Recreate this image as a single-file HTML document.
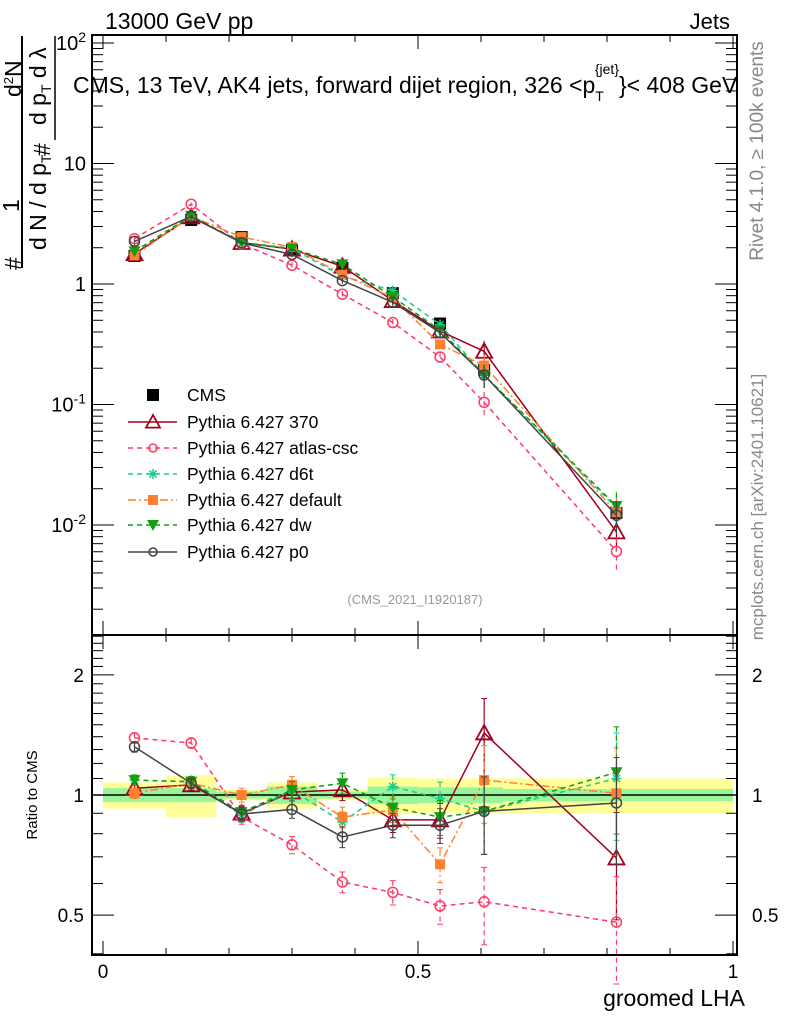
<!DOCTYPE html>
<html><head><meta charset="utf-8"><style>
html,body{margin:0;padding:0;background:#fff;}
svg{display:block;font-family:"Liberation Sans",sans-serif;}
</style></head><body>
<svg id="chart" width="786" height="1024" viewBox="0 0 786 1024">
<g id="bands"></g>
<g id="axes"></g>
<g id="series"></g>
<g id="legend"></g>
<text x="105" y="29" font-size="23">13000 GeV pp</text>
<text x="730" y="29" font-size="22" text-anchor="end">Jets</text>
<text x="73" y="93" font-size="23">CMS, 13 TeV, AK4 jets, forward dijet region, 326 &lt;p<tspan font-size="14" dy="8">T</tspan><tspan font-size="14" dx="-9" dy="-27">{jet}</tspan><tspan dy="19">}&lt; 408 GeV</tspan></text>
<text x="415" y="604" font-size="13" fill="#999" text-anchor="middle">(CMS_2021_I1920187)</text>
<text transform="translate(763,151) rotate(-90)" font-size="19" fill="#888" text-anchor="middle">Rivet 4.1.0, ≥ 100k events</text>
<text transform="translate(763,507) rotate(-90)" font-size="17" fill="#888" text-anchor="middle">mcplots.cern.ch [arXiv:2401.10621]</text>
<g font-size="23">
<line x1="22" y1="36" x2="22" y2="268" stroke="#000" stroke-width="2"/>
<text transform="translate(21,270) rotate(-90)" >#</text>
<text transform="translate(19,212) rotate(-90)">1</text>
<text transform="translate(46,250) rotate(-90)">d N / d p<tspan font-size="14" dy="5">T</tspan></text>
<line x1="55" y1="36" x2="55" y2="140" stroke="#000" stroke-width="1.5"/>
<text transform="translate(50,156) rotate(-90)">#</text>
<text transform="translate(46,125) rotate(-90)">d p<tspan font-size="14" dy="5">T</tspan><tspan dy="-5">  d λ</tspan></text>
<text transform="translate(21,97) rotate(-90)">d<tspan font-size="13" dy="-8">2</tspan><tspan dy="8">N</tspan></text>
</g>
<text transform="translate(37,795) rotate(-90)" font-size="15" text-anchor="middle">Ratio to CMS</text>
<text x="745" y="1006" font-size="23" text-anchor="end">groomed LHA</text>
</svg>
<script>
const xVals=[0.05,0.14,0.22,0.30,0.38,0.46,0.535,0.605,0.815];
const cmsVals=[1.71,3.40,2.45,1.91,1.36,0.84,0.47,0.193,0.0126];
const relErr=[0.03,0.03,0.04,0.05,0.06,0.07,0.1,0.22,0.3];
const bandEdges=[0,0.1,0.18,0.26,0.34,0.42,0.5,0.635,1.0];
const bandInner=[0.04,0.04,0.02,0.05,0.02,0.05,0.045,0.035];
const bandOuter=[0.075,0.12,0.03,0.075,0.03,0.105,0.1,0.1];
const r370=[1.04,1.06,0.90,1.017,1.03,0.866,0.866,1.43,0.695];
const rAtlas=[1.39,1.35,0.88,0.75,0.605,0.57,0.527,0.54,0.48];
const rD6t=[1.09,1.08,0.89,1.03,0.855,1.05,0.98,0.91,1.10];
const rDefault=[1.01,1.07,1.0,1.06,0.88,0.917,0.67,1.09,1.01];
const rDw=[1.09,1.08,0.906,1.03,1.07,0.93,0.88,0.91,1.14];
const rP0=[1.32,1.07,0.896,0.92,0.785,0.84,0.84,0.91,0.955];
const mainTicks=["10^2","10","1","10^-1","10^-2"];
const ratioTicks=[2,1,0.5];
const xTicks=[0,0.5,1];

const NS="http://www.w3.org/2000/svg";
const L=92,R=737,T=35,MB=635,RB=955;
const X=v=>103+v*630;
const Y=v=>284-Math.log10(v)*120.5;
const YR=v=>795-Math.log10(v)*399;
function mk(tag,attrs,parent){const e=document.createElementNS(NS,tag);for(const k in attrs)e.setAttribute(k,attrs[k]);parent.appendChild(e);return e;}
const axes=document.getElementById('axes'),bands=document.getElementById('bands'),ser=document.getElementById('series'),leg=document.getElementById('legend');

for(let i=0;i<bandEdges.length-1;i++){
  const x1=X(bandEdges[i]),x2=X(bandEdges[i+1]);
  let b=mk('rect',{x:x1,y:YR(1+bandOuter[i]),width:x2-x1,height:YR(1-bandOuter[i])-YR(1+bandOuter[i]),fill:'#ffff99'},bands);
  
  
  let g=mk('rect',{x:x1,y:YR(1+bandInner[i]),width:x2-x1,height:YR(1-bandInner[i])-YR(1+bandInner[i]),fill:'#99f599'},bands);
  
  
}
mk('line',{x1:L,y1:YR(1),x2:R,y2:YR(1),stroke:'#000','stroke-width':1.5},axes);

mk('rect',{x:L,y:T,width:R-L,height:MB-T,fill:'none',stroke:'#000','stroke-width':2},axes);
mk('rect',{x:L,y:MB,width:R-L,height:RB-MB,fill:'none',stroke:'#000','stroke-width':2},axes);
for(let i=0;i<=10;i++){const v=i/10,x=X(v),len=(i%5==0)?14:7;
  for(const yy of [T,MB]) mk('line',{x1:x,y1:yy,x2:x,y2:yy+len,stroke:'#000','stroke-width':1},axes);
  for(const yy of [MB,RB]) mk('line',{x1:x,y1:yy,x2:x,y2:yy-len,stroke:'#000','stroke-width':1},axes);
}
xTicks.forEach(v=>{const t=mk('text',{x:X(v),y:978,'font-size':19,'text-anchor':'middle'},axes);t.textContent=String(v);
  
  });
for(let d=-3;d<=2;d++){for(let m=1;m<10;m++){const v=m*Math.pow(10,d),y=Y(v);if(y<T||y>MB)continue;const len=m==1?22:11;
  mk('line',{x1:L,y1:y,x2:L+len,y2:y,stroke:'#000','stroke-width':1},axes);
  mk('line',{x1:R,y1:y,x2:R-len,y2:y,stroke:'#000','stroke-width':1},axes);}}
mainTicks.forEach((s,i)=>{const y=Y(Math.pow(10,2-i))+7;const t=mk('text',{x:86,y:y,'font-size':20,'text-anchor':'end'},axes);
  const p=s.split('^');if(p.length>1){t.textContent=p[0];const sp=mk('tspan',{'font-size':14,dy:-8},t);sp.textContent=p[1];}else t.textContent=s;
  
  });
for(let v=0.4;v<=2.5;v=Math.round((v+0.1)*10)/10){const y=YR(v);if(y<MB||y>RB)continue;const maj=(v==0.5||v==1||v==2);const len=maj?22:11;
  mk('line',{x1:L,y1:y,x2:L+len,y2:y,stroke:'#000','stroke-width':1},axes);
  mk('line',{x1:R,y1:y,x2:R-len,y2:y,stroke:'#000','stroke-width':1},axes);}
ratioTicks.forEach(v=>{for(const [x,a] of [[84,'end'],[752,'start']]){const t=mk('text',{x:x,y:YR(v)+7,'font-size':19,'text-anchor':a},axes);t.textContent=String(v);
  
  }});

function marker(g,type,x,y,color,size){
  if(type==='square') mk('rect',{x:x-6,y:y-6,width:12,height:12,fill:color},g);
  else if(type==='fsquare') mk('rect',{x:x-5,y:y-5,width:10,height:10,fill:color},g);
  else if(type==='tri'){const s=size||8;mk('polygon',{points:`${x},${y-s} ${x-s},${y+s*0.8} ${x+s},${y+s*0.8}`,fill:'#fff','fill-opacity':0,stroke:color,'stroke-width':1.8},g);}
  else if(type==='circ') mk('circle',{cx:x,cy:y,r:size||5,fill:'none',stroke:color,'stroke-width':1.5},g);
  else if(type==='tridown') mk('polygon',{points:`${x-6},${y-5} ${x+6},${y-5} ${x},${y+6}`,fill:color},g);
  else if(type==='star'){for(let a=0;a<4;a++){const an=a*Math.PI/4;mk('line',{x1:x-5*Math.cos(an),y1:y-5*Math.sin(an),x2:x+5*Math.cos(an),y2:y+5*Math.sin(an),stroke:color,'stroke-width':1.5},g);}}
}
const series=[
 {name:'Pythia 6.427 370',key:'series-370',r:r370,color:'#a0001e',dash:'',m:'tri'},
 {name:'Pythia 6.427 atlas-csc',key:'series-atlas-csc',r:rAtlas,color:'#ff3a64',dash:'5,4',m:'circ'},
 {name:'Pythia 6.427 d6t',key:'series-d6t',r:rD6t,color:'#19cc88',dash:'5,4',m:'star'},
 {name:'Pythia 6.427 default',key:'series-default',r:rDefault,color:'#ff8030',dash:'8,3,2,3',m:'fsquare'},
 {name:'Pythia 6.427 dw',key:'series-dw',r:rDw,color:'#10a010',dash:'5,4',m:'tridown'},
 {name:'Pythia 6.427 p0',key:'series-p0',r:rP0,color:'#444444',dash:'',m:'circ'}
];
const cg=mk('g',{},ser);


xVals.forEach((xv,i)=>{const x=X(xv);const v=cmsVals[i];
  mk('line',{x1:x,y1:Y(v*(1+relErr[i]*0.5)),x2:x,y2:Y(v*(1-relErr[i]*0.5)),stroke:'#000'},cg);
  marker(cg,'square',x,Y(v),'#000');});
series.forEach(s=>{
  const g=mk('g',{},ser);
  
  
  const ptsM=xVals.map((xv,i)=>X(xv)+','+Y(cmsVals[i]*s.r[i])).join(' ');
  const ptsR=xVals.map((xv,i)=>X(xv)+','+YR(s.r[i])).join(' ');
  for(const pts of [ptsM,ptsR]) mk('polyline',{points:pts,fill:'none',stroke:s.color,'stroke-width':1.5,'stroke-dasharray':s.dash},g);
  xVals.forEach((xv,i)=>{const x=X(xv);const vm=cmsVals[i]*s.r[i];const e=relErr[i];
    mk('line',{x1:x,y1:Y(vm*(1+e)),x2:x,y2:Y(vm*(1-e)),stroke:s.color,'stroke-width':1.2,'stroke-dasharray':s.dash},g);
    mk('line',{x1:x,y1:YR(s.r[i]*(1+e)),x2:x,y2:YR(s.r[i]*(1-e)),stroke:s.color,'stroke-width':1.2,'stroke-dasharray':s.dash},g);
    for(const yy of [YR(s.r[i]*(1+e)),YR(s.r[i]*(1-e))]) mk('line',{x1:x-3,y1:yy,x2:x+3,y2:yy,stroke:s.color},g);
    marker(g,s.m,x,Y(vm),s.color);marker(g,s.m,x,YR(s.r[i]),s.color);});
});
const ly=[395,422,448,474,500,525,552];
const lc=mk('g',{},leg);


marker(lc,'square',153,ly[0],'#000');
mk('text',{x:187,y:ly[0]+6,'font-size':17.5},lc).textContent='CMS';
series.forEach((s,i)=>{const y=ly[i+1];const g=mk('g',{},leg);
  
  
  mk('line',{x1:128,y1:y,x2:177,y2:y,stroke:s.color,'stroke-width':1.5,'stroke-dasharray':s.dash},g);
  marker(g,s.m,153,y,s.color,s.m==='circ'?4:7);
  mk('text',{x:187,y:y+6,'font-size':17.5},g).textContent=s.name;});
</script>
</body></html>
